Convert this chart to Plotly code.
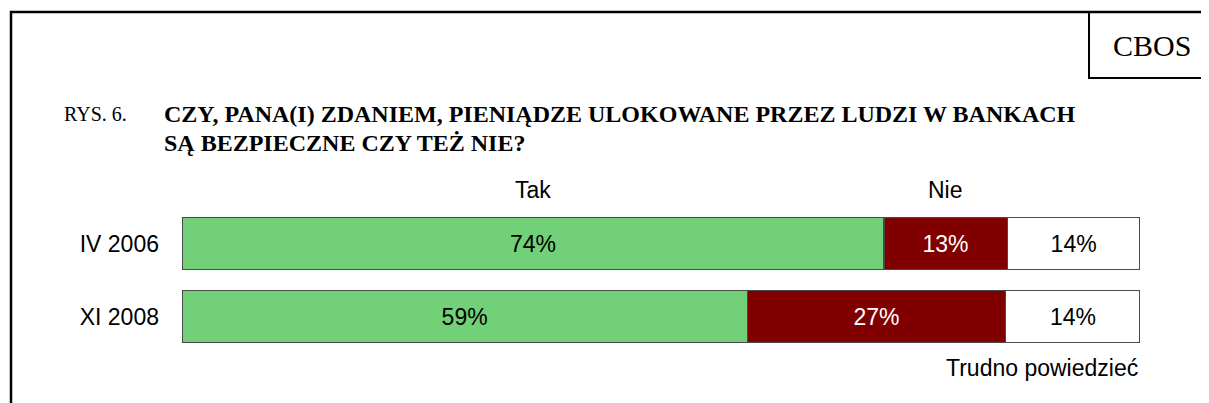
import plotly.graph_objects as go

# ---- data ----
periods = ["IV 2006", "XI 2008"]
tak = [74, 59]
nie = [13, 27]
trudno = [14, 14]
series_names = ["Tak", "Nie", "Trudno powiedzieć"]

# page has an 8px body margin; lay the figure out in page coordinates
OFF = 8
W, H = 1209, 403
ML, MR, MT, MB = 174, 77, 199, 58
PW, PH = W - ML - MR, H - MT - MB


def px(x):  # page pixel -> paper
    return (x - OFF - ML) / PW


def py(y):  # page pixel -> paper
    return (H - MB - (y - OFF)) / PH


SANS = "Liberation Sans, Arial"
SERIF = "Liberation Serif, Times New Roman"
colors = ["#72D078", "#800000", "#FFFFFF"]
text_colors = ["#000000", "#FFFFFF", "#000000"]

fig = go.Figure()
for name, vals, col, tcol in zip(series_names, [tak, nie, trudno], colors, text_colors):
    fig.add_trace(go.Bar(
        y=periods, x=vals, name=name, orientation="h",
        marker=dict(color=col, line=dict(color="#4a4a4a", width=1.2)),
        text=[f"{v}%" for v in vals], textposition="inside",
        insidetextanchor="middle",
        textfont=dict(family=SANS, size=23, color=tcol),
        width=0.705, showlegend=False, hoverinfo="skip",
    ))

# series labels positioned from data of first bar (normalized to 100%)
tot0 = tak[0] + nie[0] + trudno[0]
tak_c = tak[0] / tot0 * 100 / 2
nie_c = (tak[0] + nie[0] / 2) / tot0 * 100

annotations = [
    dict(x=tak_c, y=py(190), xref="x", yref="paper", text=series_names[0],
         xanchor="center", yanchor="middle", showarrow=False,
         font=dict(family=SANS, size=23, color="#000")),
    dict(x=nie_c, y=py(190), xref="x", yref="paper", text=series_names[1],
         xanchor="center", yanchor="middle", showarrow=False,
         font=dict(family=SANS, size=23, color="#000")),
    dict(x=px(1140), y=py(368), xref="paper", yref="paper", text=series_names[2],
         xanchor="right", yanchor="middle", showarrow=False,
         font=dict(family=SANS, size=23, color="#000")),
    dict(x=px(62), y=py(114), xref="paper", yref="paper", text="RYS. 6.",
         xanchor="left", yanchor="middle", showarrow=False,
         font=dict(family=SERIF, size=20, color="#000")),
    dict(x=px(162), y=py(114), xref="paper", yref="paper",
         text="<b>CZY, PANA(I) ZDANIEM, PIENIĄDZE ULOKOWANE PRZEZ LUDZI W BANKACH</b>",
         xanchor="left", yanchor="middle", showarrow=False,
         font=dict(family=SERIF, size=24, color="#000")),
    dict(x=px(162), y=py(143), xref="paper", yref="paper",
         text="<b>SĄ BEZPIECZNE CZY TEŻ NIE?</b>",
         xanchor="left", yanchor="middle", showarrow=False,
         font=dict(family=SERIF, size=24, color="#000")),
    dict(x=px(1152), y=py(45), xref="paper", yref="paper", text="CBOS",
         xanchor="center", yanchor="middle", showarrow=False,
         font=dict(family=SERIF, size=30, color="#000")),
]

shapes = [
    dict(type="path", xref="paper", yref="paper",
         path=f"M {px(11)} {py(420)} L {px(11)} {py(12)} L {px(1225)} {py(12)}",
         line=dict(color="#000", width=2.5)),
    dict(type="path", xref="paper", yref="paper",
         path=f"M {px(1089)} {py(12)} L {px(1089)} {py(78)} L {px(1225)} {py(78)}",
         line=dict(color="#000", width=2)),
]

fig.update_layout(
    barmode="stack", barnorm="percent",
    width=W, height=H,
    margin=dict(l=ML, r=MR, t=MT, b=MB, autoexpand=False),
    paper_bgcolor="white", plot_bgcolor="white",
    xaxis=dict(range=[0, 100], visible=False, fixedrange=True),
    yaxis=dict(autorange="reversed", showline=False, showgrid=False, ticks="",
               ticklabelstandoff=22,
               tickfont=dict(family=SANS, size=23, color="#000")),
    annotations=annotations, shapes=shapes,
)

fig.write_html("out.html")
